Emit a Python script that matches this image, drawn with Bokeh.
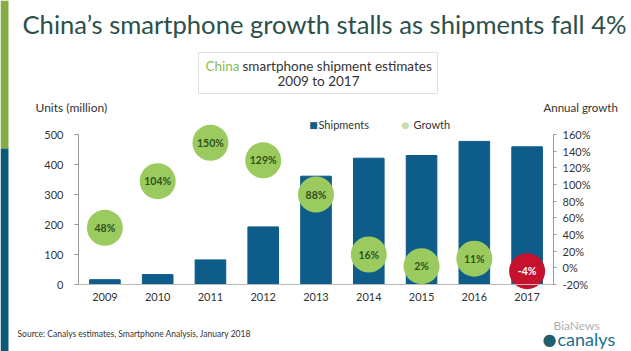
from bokeh.plotting import figure
from bokeh.models import (FactorRange, Range1d, LinearAxis, CategoricalAxis, Label,
                          BoxAnnotation, FixedTicker, PrintfTickFormatter, ColumnDataSource)
from bokeh.core.properties import value
from bokeh.embed import file_html
from bokeh.resources import INLINE

# ---------------- data ----------------
years = ["2009", "2010", "2011", "2012", "2013", "2014", "2015", "2016", "2017"]
shipments = [16, 33, 82, 192, 361, 421, 430, 477, 459]          # units (million)
growth = [48, 104, 150, 129, 88, 16, 2, 11, -4]                 # annual growth %
left_ticks = [0, 100, 200, 300, 400, 500]
right_ticks = [-20, 0, 20, 40, 60, 80, 100, 120, 140, 160]

title_text = "China\u2019s smartphone growth stalls as shipments fall 4%"
source_text = "Source: Canalys estimates, Smartphone Analysis, January 2018"

# ---------------- layout ----------------
W, H = 631, 351
PL, PR, PT, PB = 78, 553, 134, 284          # plot area in page pixels
FONT = "Lato"
BAR = "#0d5c8a"
GREEN = "#9bcb5f"
RED = "#c4122f"
DARK = "#333333"

n = len(years)
unit = (PR - PL) / n
pad_l = PL / unit
x_range = FactorRange(*years, range_padding=2 * pad_l / n, range_padding_units="percent")

# shipments scale: PB -> 0, PT -> 500
s_per_px = (left_ticks[-1] - left_ticks[0]) / (PB - PT)
y_range = Range1d(left_ticks[0] - (H - PB) * s_per_px, left_ticks[-1] + PT * s_per_px)
g_per_px = (right_ticks[-1] - right_ticks[0]) / (PB - PT)
g_range = Range1d(right_ticks[0] - (H - PB) * g_per_px, right_ticks[-1] + PT * g_per_px)


def sx(px):
    return px


def sy(py):
    return H - py


p = figure(width=W, height=H, x_range=x_range, y_range=y_range,
           output_backend="svg", toolbar_location=None,
           x_axis_location=None, y_axis_location=None,
           min_border=0, min_border_left=0, min_border_right=0,
           min_border_top=0, min_border_bottom=0)
p.xgrid.grid_line_color = None
p.ygrid.grid_line_color = None
p.outline_line_color = None
p.background_fill_color = "white"
p.border_fill_color = "white"
p.extra_y_ranges = {"g": g_range}

src = ColumnDataSource(dict(
    year=years, ship=shipments, growth=growth,
    glabel=[f"{g}%" for g in growth],
    gcolor=[RED if g < 0 else GREEN for g in growth],
    tcolor=["white" if g < 0 else "#2d521c" for g in growth],
))

p.vbar(x="year", top="ship", width=0.58, source=src, color=BAR)
p.scatter(x="year", y="growth", size=36, source=src, fill_color="gcolor",
          line_color=None, y_range_name="g")
p.text(x="year", y="growth", text="glabel", source=src, y_range_name="g",
       text_align="center", text_baseline="middle", text_font=value(FONT),
       text_font_size="10.5px", text_color="tcolor", text_font_style="bold")


def style_axis(ax):
    ax.axis_line_color = "#999999"
    ax.major_tick_line_color = "#999999"
    ax.major_tick_in = 0
    ax.minor_tick_line_color = None
    ax.major_label_text_font = FONT
    ax.major_label_text_font_size = "11px"
    ax.major_label_text_color = DARK


la = LinearAxis(ticker=FixedTicker(ticks=left_ticks), fixed_location=0,
                bounds=(left_ticks[0], left_ticks[-1]))
style_axis(la)
la.major_tick_out = 4
la.major_label_standoff = 11
p.add_layout(la, "left")

ra = LinearAxis(y_range_name="g", ticker=FixedTicker(ticks=right_ticks),
                formatter=PrintfTickFormatter(format="%d%%"), fixed_location=n,
                bounds=(right_ticks[0], right_ticks[-1]))
style_axis(ra)
ra.major_tick_out = 3
ra.major_label_standoff = 6
p.add_layout(ra, "right")

xa = CategoricalAxis(fixed_location=0, bounds=(0, n))
style_axis(xa)
xa.axis_line_color = "#bbbbbb"
xa.major_tick_line_color = None
xa.major_tick_out = 0
xa.major_label_standoff = 8
p.add_layout(xa, "below")


def lab(px, py, text, size, color=DARK, align="left", style="normal", font=FONT):
    p.add_layout(Label(x=sx(px), y=sy(py), x_units="screen", y_units="screen",
                       text=text, text_font=font, text_font_size=size,
                       text_color=color, text_align=align, text_baseline="middle",
                       text_font_style=style))


def box(x0, x1, y0, y1, fill, line=None):
    p.add_layout(BoxAnnotation(left=sx(x0), right=sx(x1), top=sy(y0), bottom=sy(y1),
                               left_units="screen", right_units="screen",
                               top_units="screen", bottom_units="screen",
                               fill_color=fill, fill_alpha=1, line_color=line,
                               line_width=1, level="underlay"))


# left stripe
box(0, 8, 0, 148, "#86ad45")
box(0, 8, 148, H, "#0d5a78")

# subtitle box
box(198, 437, 52, 93, "white", "#9a9a9a")

lab(22, 23, title_text, "25.6px", color="#2b504a")
lab(239, 65, "China", "13.5px", color="#8dbb55", align="right")
lab(242, 65, "smartphone shipment estimates", "13.5px", color=DARK)
lab(318, 80, "2009 to 2017", "13.5px", color=DARK, align="center")

lab(35, 107, "Units (million)", "12px")
lab(543, 107, "Annual growth", "11.5px")

# legend
lab(313, 124, "\u25A0", "9px", color=BAR, align="center", font="DejaVu Sans")
lab(318, 124, "Shipments", "11px")
lab(405, 124, "\u25CF", "9px", color="#c8dca6", align="center", font="DejaVu Sans")
lab(413, 124, "Growth", "11px")

lab(17, 333, source_text, "8.5px")

# logo / watermark
lab(549, 339, "\u25CF", "16px", color="#1d5f6e", align="center", font="DejaVu Sans")
lab(557, 338, "canalys", "18px", color="#1d6f8c")
lab(553, 325, "BiaNews", "12px", color="#b0b0b0")

open("out.html", "w").write(file_html(p, INLINE))
